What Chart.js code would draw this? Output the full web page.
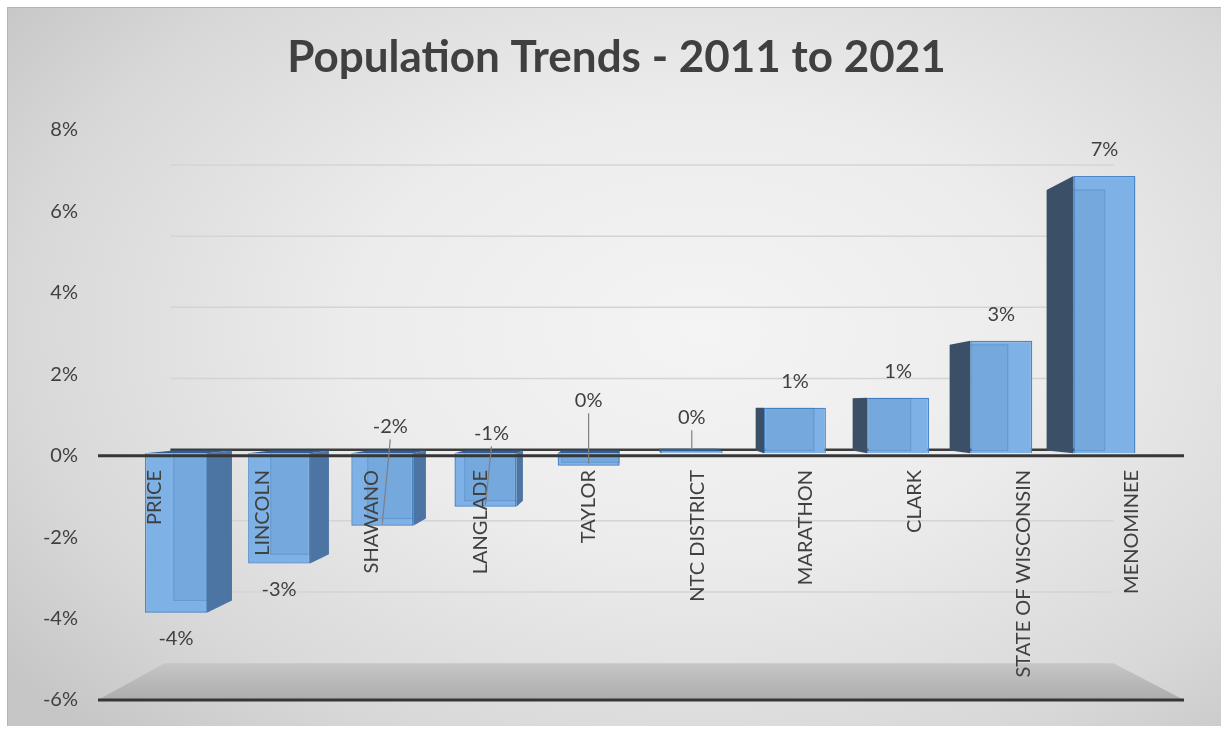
<!DOCTYPE html>
<html>
<head>
<meta charset="utf-8">
<title>Population Trends - 2011 to 2021</title>
<script src="https://cdn.jsdelivr.net/npm/chart.js@4.4.1/dist/chart.umd.min.js"></script>
<style>
  html, body { margin: 0; padding: 0; background: #fff; }
  #frame {
    position: absolute; left: 7px; top: 7px; width: 1214px; height: 718px;
    border-left: 1px solid #b4b4b4; border-top: 1px solid #b4b4b4;
    background: radial-gradient(ellipse 72% 78% at 57% 45%, #f4f4f4 0%, #ececec 40%, #d8d8d8 78%, #c6c6c6 100%);
  }
  #wrap { position: absolute; left: 0; top: 0; width: 1221px; height: 735px; }
</style>
</head>
<body>
<div id="frame"></div>
<div id="wrap"><canvas id="popChart"></canvas></div>
<script>
// chart data
const counties = ['PRICE', 'LINCOLN', 'SHAWANO', 'LANGLADE', 'TAYLOR', 'NTC DISTRICT',
                  'MARATHON', 'CLARK', 'STATE OF WISCONSIN', 'MENOMINEE'];
const changePct = [-4.12, -2.85, -1.87, -1.38, -0.32, 0.05, 1.18, 1.44, 2.91, 7.17];
const yMin = -6, yMax = 8, yStep = 2;

// fake 3d: everything shrinks toward this point
const VP = { x: 625, y: 408 };
const BAR_PLANE = 0.95;   // bars sit a little behind the front axis plane
const BAR_DEPTH = 0.94;   // back of each bar, relative to its front
const WALL = 0.874;       // back wall (gridlines, floor edge)

// callouts that Excel moved above the zero line (style only)
const callouts = { 2: { dx: 8, dy: -27 }, 3: { dx: 6, dy: -20 }, 4: { dx: 0, dy: -53 }, 5: { dx: 0, dy: -36 } };

function toward(p, t) {
    return { x: VP.x + t * (p.x - VP.x), y: VP.y + t * (p.y - VP.y) };
}

function quad(ctx, pts, color) {
    ctx.beginPath();
    ctx.moveTo(pts[0].x, pts[0].y);
    for (let i = 1; i < pts.length; i++) ctx.lineTo(pts[i].x, pts[i].y);
    ctx.closePath();
    ctx.fillStyle = color;
    ctx.fill();
}

function barBox(bar) {
    const p = bar.getProps(['x', 'y', 'base', 'width'], true);
    const x1 = p.x - p.width / 2, x2 = p.x + p.width / 2;
    const yt = Math.min(p.y, p.base), yb = Math.max(p.y, p.base);
    return { x: p.x, y: p.y, x1, x2, yt, yb, w: p.width };
}

const scene3d = {
    id: 'scene3d',
    beforeDatasetsDraw(chart) {
        const ctx = chart.ctx, area = chart.chartArea, yScale = chart.scales.y;

        // floor at the axis minimum
        const yf = yScale.getPixelForValue(yMin);
        const fl = toward({ x: area.left, y: yf }, WALL), fr = toward({ x: area.right, y: yf }, WALL);
        const g = ctx.createLinearGradient(0, fl.y, 0, yf);
        g.addColorStop(0, '#c6c6c6');
        g.addColorStop(1, '#acacac');
        quad(ctx, [{ x: area.left, y: yf }, fl, fr, { x: area.right, y: yf }], g);

        // gridlines on the back wall
        for (let v = yMin + yStep; v <= yMax; v += yStep) {
            const py = yScale.getPixelForValue(v);
            const a = toward({ x: area.left, y: py }, WALL), b = toward({ x: area.right, y: py }, WALL);
            ctx.beginPath();
            ctx.moveTo(a.x + 6, a.y);
            ctx.lineTo(b.x, b.y);
            ctx.strokeStyle = v === 0 ? '#3c3c3c' : '#d4d4d4';
            ctx.lineWidth = v === 0 ? 2.5 : 1.5;
            ctx.stroke();
        }

        // move into the bar plane; Chart.js draws the front faces in here
        ctx.save();
        ctx.translate(VP.x, VP.y);
        ctx.scale(BAR_PLANE, BAR_PLANE);
        ctx.translate(-VP.x, -VP.y);

        chart.getDatasetMeta(0).data.forEach((bar, i) => {
            const b = barBox(bar);
            const A = { x: b.x1, y: b.yt }, B = { x: b.x2, y: b.yt }, C = { x: b.x2, y: b.yb }, D = { x: b.x1, y: b.yb };
            const [A2, B2, C2, D2] = [A, B, C, D].map(p => toward(p, BAR_DEPTH));
            const neg = changePct[i] < 0;
            if (b.x2 < VP.x) quad(ctx, [B, C, C2, B2], neg ? '#4c75a4' : '#3b4f66');
            if (b.x1 > VP.x) quad(ctx, [A, D, D2, A2], neg ? '#4c75a4' : '#3b4f66');
            if (b.yt > VP.y) quad(ctx, [A, B, B2, A2], '#2f5f98');
            if (b.yb < VP.y) quad(ctx, [D, C, C2, D2], '#2f5f98');
        });
    },
    afterDatasetsDraw(chart) {
        const ctx = chart.ctx, area = chart.chartArea;
        const xScale = chart.scales.x, yScale = chart.scales.y;
        const meta = chart.getDatasetMeta(0);

        // back edges showing through the glassy front faces
        meta.data.forEach(bar => {
            const b = barBox(bar);
            const A2 = toward({ x: b.x1, y: b.yt }, BAR_DEPTH), C2 = toward({ x: b.x2, y: b.yb }, BAR_DEPTH);
            ctx.save();
            ctx.beginPath();
            ctx.rect(b.x1, b.yt, b.w, b.yb - b.yt);
            ctx.clip();
            ctx.fillStyle = 'rgba(255,255,255,0.14)';
            ctx.fillRect(b.x1, b.yt, b.w, b.yb - b.yt);
            ctx.fillStyle = 'rgba(40,95,160,0.10)';
            ctx.fillRect(A2.x, A2.y, C2.x - A2.x, C2.y - A2.y);
            ctx.strokeStyle = 'rgba(40,100,170,0.30)';
            ctx.lineWidth = 1;
            ctx.strokeRect(A2.x, A2.y, C2.x - A2.x, C2.y - A2.y);
            ctx.restore();
        });
        ctx.restore();

        // front axis lines
        [0, yMin].forEach(v => {
            const py = yScale.getPixelForValue(v);
            ctx.beginPath();
            ctx.moveTo(area.left, py);
            ctx.lineTo(area.right, py);
            ctx.strokeStyle = '#363636';
            ctx.lineWidth = 3;
            ctx.stroke();
        });

        // category names, rotated, hanging below the zero line
        ctx.save();
        ctx.font = '20px Lato';
        ctx.fillStyle = '#404040';
        ctx.textAlign = 'right';
        ctx.textBaseline = 'middle';
        counties.forEach((name, i) => {
            ctx.save();
            ctx.translate(xScale.getPixelForValue(i) + 2, 470);
            ctx.rotate(-Math.PI / 2);
            ctx.fillText(name, 0, 0);
            ctx.restore();
        });
        ctx.restore();

        // value labels
        const zero = toward({ x: 0, y: yScale.getPixelForValue(0) }, BAR_PLANE).y;
        ctx.save();
        ctx.font = '20px Lato';
        ctx.fillStyle = '#404040';
        ctx.textAlign = 'center';
        ctx.textBaseline = 'middle';
        meta.data.forEach((bar, i) => {
            const end = toward({ x: bar.x, y: bar.y }, BAR_PLANE);
            const text = Math.round(changePct[i]) + '%';
            const c = callouts[i];
            if (c) {
                const lx = end.x + c.dx, ly = zero + c.dy;
                ctx.beginPath();
                ctx.moveTo(lx, ly + 13);
                ctx.lineTo(end.x, end.y - 2);
                ctx.strokeStyle = '#808080';
                ctx.lineWidth = 1.2;
                ctx.stroke();
                ctx.fillText(text, lx, ly);
            } else {
                ctx.fillText(text, end.x, end.y + (changePct[i] < 0 ? 26 : -26));
            }
        });
        ctx.restore();
    }
};

const ctx = document.getElementById('popChart').getContext('2d');
new Chart(ctx, {
    type: 'bar',
    data: {
        labels: counties,
        datasets: [{
            data: changePct,
            backgroundColor: '#69a6e2',
            borderColor: '#2e74bf',
            borderWidth: 1.5,
            barPercentage: 0.6,
            categoryPercentage: 1,
            clip: false
        }]
    },
    options: {
        responsive: true,
        maintainAspectRatio: false,
        devicePixelRatio: 1,
        animation: false,
        events: [],
        layout: { padding: { left: 30, right: 18, top: 0, bottom: 35 } },
        plugins: {
            legend: { display: false },
            tooltip: { enabled: false },
            title: {
                display: true,
                text: 'Population Trends - 2011 to 2021',
                color: '#404040',
                font: { family: 'Lato', size: 44, weight: 'bold' },
                padding: { top: 31, bottom: 46.2 }
            }
        },
        scales: {
            x: { display: false },
            y: {
                min: yMin,
                max: yMax,
                grid: { display: false, drawTicks: false },
                border: { display: false },
                ticks: {
                    stepSize: yStep,
                    padding: 20,
                    color: '#404040',
                    font: { family: 'Lato', size: 20 },
                    callback: v => v + '%'
                },
                afterFit(scale) { scale.width = 68; }
            },
            // empty right box, only to hold the plot's right edge
            yRight: {
                position: 'right',
                grid: { display: false, drawTicks: false },
                border: { display: false },
                ticks: { display: false },
                afterFit(scale) { scale.width = 19; }
            }
        }
    },
    plugins: [scene3d]
});
</script>
</body>
</html>
